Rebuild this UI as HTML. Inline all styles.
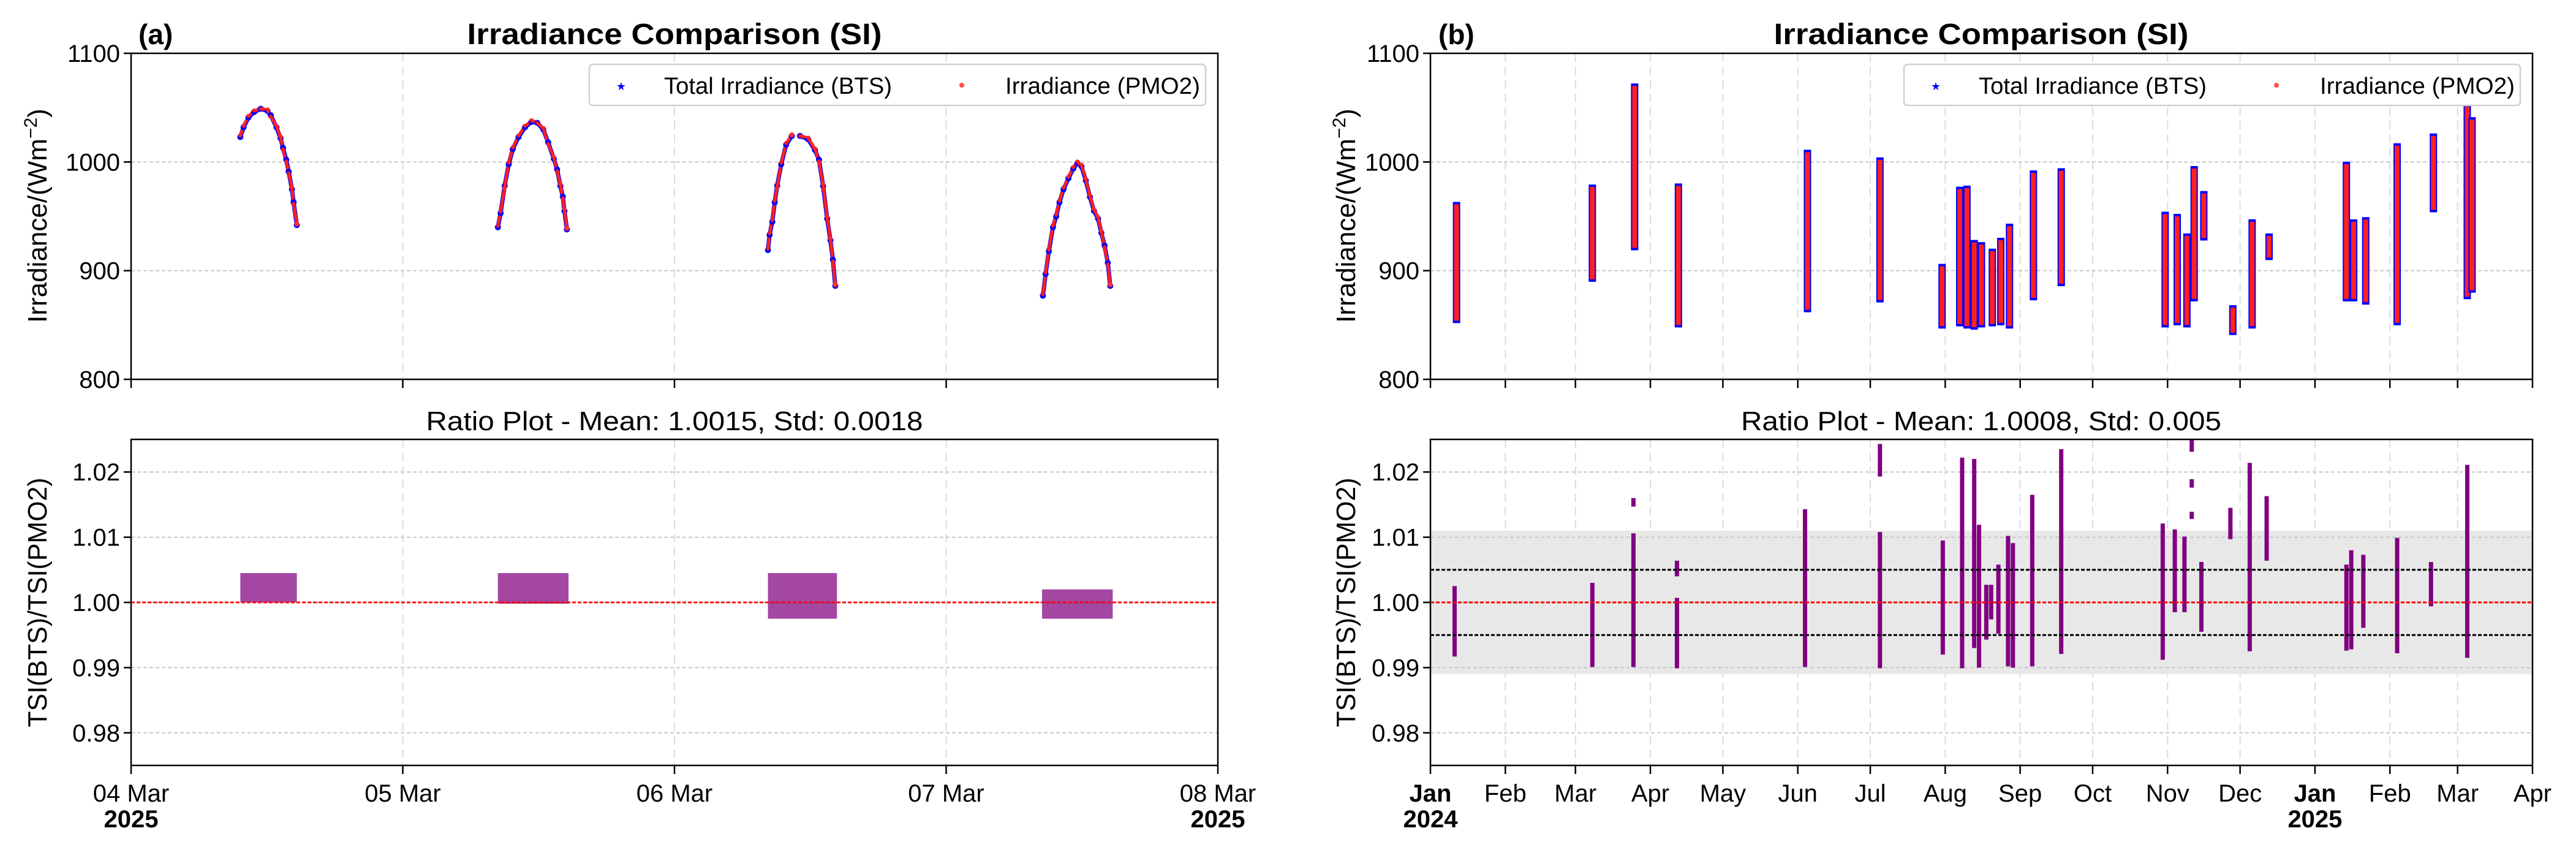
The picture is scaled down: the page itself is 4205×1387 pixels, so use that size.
<!DOCTYPE html>
<html><head><meta charset="utf-8">
<style>
html,body{margin:0;padding:0;background:#fff;}
svg{display:block;font-family:"Liberation Sans",Arial,sans-serif;}
</style></head>
<body>
<svg id="fig" width="4205" height="1387" viewBox="0 0 4205 1387" xmlns="http://www.w3.org/2000/svg">
<rect x="0" y="0" width="4205" height="1387" fill="#fff"/>
<g id="root"></g>
</svg>
<script>
// ---------- Panel (a) data: days since 04 Mar 2025 ----------
const aTimes = [0.402,0.414,0.432,0.453,0.477,0.502,0.514,0.535,0.550,0.559,0.571,0.580,0.592,0.598,0.610,
1.350,1.360,1.375,1.390,1.405,1.426,1.450,1.474,1.495,1.517,1.535,1.556,1.568,1.580,1.589,1.595,1.604,
2.344,2.350,2.360,2.369,2.378,2.393,2.411,2.432,2.462,2.492,2.517,2.532,2.547,2.562,2.574,2.583,2.592,
3.356,3.366,3.378,3.393,3.405,3.417,3.432,3.450,3.468,3.483,3.498,3.514,3.529,3.544,3.559,3.571,3.583,3.595,3.604];
const aBTS = [1023,1032,1041,1046,1049,1047,1043,1032,1022,1013,1002,991,975,963,942,
940,953,978,998,1012,1023,1032,1037,1036,1030,1018,1003,993,978,968,955,938,
919,933,945,963,978,998,1016,1024,1024,1021,1011,1002,978,948,928,910,886,
877,897,918,940,950,963,975,985,994,999,996,983,968,955,948,935,923,907,886];
const aPMO = [1024,1033,1042,1047,1049,1048,1042,1033,1023,1012,1001,990,976,962,943,
941,954,977,999,1013,1024,1033,1038,1036,1031,1017,1004,992,979,967,956,939,
920,934,946,964,977,999,1017,1025,1024,1022,1012,1001,979,949,929,909,887,
878,898,919,941,951,964,976,986,995,1000,997,984,969,956,949,936,922,906,887];
// ratio clusters (a): start day, end day, high, low
const aRatioStart = [0.402,1.350,2.344,3.353];
const aRatioEnd   = [0.610,1.610,2.598,3.613];
const aRatioHigh  = [1.0045,1.0045,1.0045,1.0020];
const aRatioLow   = [1.0000,0.9998,0.9975,0.9975];
const aDayLabels = ["04 Mar","05 Mar","06 Mar","07 Mar","08 Mar"];
const irrTicks = [800,900,1000,1100];
const ratioTicks = [0.98,0.99,1.00,1.01,1.02];
const ratioTickLabels = ["0.98","0.99","1.00","1.01","1.02"];

// ---------- Panel (b) data: days since 01 Jan 2024 ----------
const bIrrDay  = [10.8,67,84.5,102.6,156,186,211.7,219,222,225,228,232.5,236,239.6,249.5,261,304,309,313,316,320,332,340,347,379,382,387,400,415,429,431];
const bIrrHigh = [961,977,1070,978,1009,1002,904,975,976,926,924,918,928,941,990,992,952,950,932,994,971,866,945,932,998,945,947,1015,1024,1051,1039];
const bIrrLow  = [854,892,921,850,864,873,849,851,849,848,850,851,852,849,875,888,850,852,850,874,930,843,849,912,874,874,871,852,956,876,882];
const bRatioDay  = [10,67,84,84,102,102,155,186,186,212,220,225,227,230,232,235,239,241,249,261,303,308,312,315,315,315,319,331,339,346,379,381,386,400,414,429];
const bRatioHigh = [1.0025,1.0030,1.0160,1.0106,1.0064,1.0007,1.0143,1.0243,1.0108,1.0095,1.0222,1.0220,1.0119,1.0027,1.0027,1.0058,1.0102,1.0091,1.0165,1.0235,1.0121,1.0112,1.0101,1.0250,1.0189,1.0139,1.0062,1.0145,1.0214,1.0163,1.0058,1.0080,1.0073,1.0099,1.0062,1.0211];
const bRatioLow  = [0.9917,0.9901,1.0147,0.9901,1.0040,0.9899,0.9901,1.0193,0.9899,0.9920,0.9899,0.9930,0.9900,0.9943,0.9974,0.9952,0.9902,0.9900,0.9902,0.9921,0.9912,0.9985,0.9985,1.0231,1.0176,1.0128,0.9955,1.0097,0.9925,1.0064,0.9926,0.9928,0.9961,0.9922,0.9994,0.9915];
const bMonthDays = [0,31,60,91,121,152,182,213,244,274,305,335,366,397,425,456];
const bMonthLabels = ["Jan","Feb","Mar","Apr","May","Jun","Jul","Aug","Sep","Oct","Nov","Dec","Jan","Feb","Mar","Apr"];

const NS="http://www.w3.org/2000/svg";
const root=document.getElementById('root');
function mk(tag,attrs,parent){const e=document.createElementNS(NS,tag);for(const k in attrs)e.setAttribute(k,attrs[k]);(parent||root).appendChild(e);return e;}
function txt(str,attrs,parent){const e=mk('text',attrs,parent);e.textContent=str;return e;}

const TOP={y0:87,y1:619}, BOT={y0:717,y1:1249};
const A={x0:214,x1:1988}, B={x0:2335,x1:4134};
const irrY=v=>TOP.y1-(v-800)/300*(TOP.y1-TOP.y0);
const ratY=v=>BOT.y1-(v-0.975)/0.05*(BOT.y1-BOT.y0);
const aX=d=>A.x0+d/4*(A.x1-A.x0);
const bX=d=>B.x0+d/456*(B.x1-B.x0);

function frame(x0,x1,y0,y1,name){
  const r=mk('rect',{x:x0,y:y0,width:x1-x0,height:y1-y0,fill:'none',stroke:'#000','stroke-width':2.5});
  
  
}
function hgrid(x0,x1,y){mk('line',{x1:x0,x2:x1,y1:y,y2:y,stroke:'#c8c8c8','stroke-width':2,'stroke-dasharray':'6,4'});}
function vgrid(x,y0,y1){mk('line',{x1:x,x2:x,y1:y0,y2:y1,stroke:'#dcdcdc','stroke-width':2,'stroke-dasharray':'14,8'});}
function ytick(x0,y,label,name){
  mk('line',{x1:x0-12,x2:x0,y1:y,y2:y,stroke:'#000','stroke-width':2.5});
  const t=txt(label,{x:x0-18,y:y+14,'font-size':40,'text-anchor':'end',fill:'#000'});
  
  
}

// ===== Panel A =====
aDayLabels.forEach((l,i)=>{const x=aX(i);
  if(i>0&&i<4){vgrid(x,TOP.y0,TOP.y1);vgrid(x,BOT.y0,BOT.y1);}
  mk('line',{x1:x,x2:x,y1:TOP.y1,y2:TOP.y1+14,stroke:'#000','stroke-width':2.5});
  mk('line',{x1:x,x2:x,y1:BOT.y1,y2:BOT.y1+14,stroke:'#000','stroke-width':2.5});
  const t=txt(l,{x:x,y:1308,'font-size':40,'text-anchor':'middle'});
  
  
});
[0,4].forEach(i=>{const t=txt('2025',{x:aX(i),y:1350,'font-size':40,'font-weight':'bold','text-anchor':'middle'});
  
  });
irrTicks.forEach(v=>{if(v>800&&v<1100)hgrid(A.x0,A.x1,irrY(v));ytick(A.x0,irrY(v),String(v),'y-tick-label-a-top');});
ratioTicks.forEach((v,i)=>{hgrid(A.x0,A.x1,ratY(v));ytick(A.x0,ratY(v),ratioTickLabels[i],'y-tick-label-a-bottom');});
// arcs
for(let i=0;i<aTimes.length;i++){
  if(i>0&&aTimes[i]-aTimes[i-1]<0.03){
    const l=mk('line',{x1:aX(aTimes[i-1]),x2:aX(aTimes[i]),y1:irrY(aBTS[i-1]),y2:irrY(aBTS[i]),stroke:'#0000ff','stroke-width':7,'stroke-linecap':'round'});
    
    
    const l2=mk('line',{x1:aX(aTimes[i-1]),x2:aX(aTimes[i]),y1:irrY(aPMO[i-1]),y2:irrY(aPMO[i]),stroke:'#ff2020','stroke-width':5,'stroke-linecap':'round'});
    
    
  }
  const c=mk('circle',{cx:aX(aTimes[i]),cy:irrY(aBTS[i]),r:5,fill:'#0000ff'});
  
  
  const c2=mk('circle',{cx:aX(aTimes[i]),cy:irrY(aPMO[i]),r:4,fill:'#ff3030'});
  
  
}
// ratio a
aRatioStart.forEach((s,i)=>{
  const r=mk('rect',{x:aX(s),y:ratY(aRatioHigh[i]),width:aX(aRatioEnd[i])-aX(s),height:ratY(aRatioLow[i])-ratY(aRatioHigh[i]),fill:'#800080',opacity:0.72});
  
  
});
mk('line',{x1:A.x0,x2:A.x1,y1:ratY(1),y2:ratY(1),stroke:'#ff0000','stroke-width':3,'stroke-dasharray':'6,3',opacity:0.9});
frame(A.x0,A.x1,TOP.y0,TOP.y1,'plot-area-a-top');
frame(A.x0,A.x1,BOT.y0,BOT.y1,'plot-area-a-bottom');

// ===== Panel B =====
bMonthDays.forEach((d,i)=>{const x=bX(d);
  if(i>0&&i<15){vgrid(x,TOP.y0,TOP.y1);vgrid(x,BOT.y0,BOT.y1);}
  mk('line',{x1:x,x2:x,y1:TOP.y1,y2:TOP.y1+14,stroke:'#000','stroke-width':2.5});
  mk('line',{x1:x,x2:x,y1:BOT.y1,y2:BOT.y1+14,stroke:'#000','stroke-width':2.5});
  const isJan=bMonthLabels[i]==='Jan';
  const t=txt(bMonthLabels[i],{x:x,y:1308,'font-size':40,'text-anchor':'middle','font-weight':isJan?'bold':'normal'});
  
  
});
[[0,'2024'],[366,'2025']].forEach(p=>{const t=txt(p[1],{x:bX(p[0]),y:1350,'font-size':40,'font-weight':'bold','text-anchor':'middle'});
  
  });
irrTicks.forEach(v=>{if(v>800&&v<1100)hgrid(B.x0,B.x1,irrY(v));ytick(B.x0,irrY(v),String(v),'y-tick-label-b-top');});
// band
const band=mk('rect',{x:B.x0,y:ratY(1.011),width:B.x1-B.x0,height:ratY(0.989)-ratY(1.011),fill:'#e8e8e8'});


ratioTicks.forEach((v,i)=>{hgrid(B.x0,B.x1,ratY(v));ytick(B.x0,ratY(v),ratioTickLabels[i],'y-tick-label-b-bottom');});
bIrrDay.forEach((d,i)=>{
  const r=mk('rect',{x:bX(d)-6,y:irrY(bIrrHigh[i])-4,width:12,height:irrY(bIrrLow[i])-irrY(bIrrHigh[i])+8,fill:'#0000ff'});
  
  
  const r2=mk('rect',{x:bX(d)-4,y:irrY(bIrrHigh[i]),width:8,height:irrY(bIrrLow[i])-irrY(bIrrHigh[i]),fill:'#ff2020'});
  
  
});
bRatioDay.forEach((d,i)=>{
  const r=mk('rect',{x:bX(d)-3.5,y:ratY(bRatioHigh[i]),width:7,height:ratY(bRatioLow[i])-ratY(bRatioHigh[i]),fill:'#800080'});
  
  
});
mk('line',{x1:B.x0,x2:B.x1,y1:ratY(1),y2:ratY(1),stroke:'#ff0000','stroke-width':3,'stroke-dasharray':'6,3'});
[1.005,0.995].forEach(v=>{const l=mk('line',{x1:B.x0,x2:B.x1,y1:ratY(v),y2:ratY(v),stroke:'#000','stroke-width':3,'stroke-dasharray':'6,3'});
  
  });
frame(B.x0,B.x1,TOP.y0,TOP.y1,'plot-area-b-top');
frame(B.x0,B.x1,BOT.y0,BOT.y1,'plot-area-b-bottom');

// legends
function legend(x,y,w,name){
  const g=mk('g',{});
  
  
  mk('rect',{x:x,y:y,width:w,height:67,rx:6,fill:'#fff',stroke:'#d0d0d0','stroke-width':2.5},g);
  txt('★',{x:x+52,y:y+42,'font-size':18,fill:'#0000ff','text-anchor':'middle',"font-family":"DejaVu Sans"},g);
  txt('Total Irradiance (BTS)',{x:x+122,y:y+48,'font-size':38,textLength:372,lengthAdjust:'spacingAndGlyphs'},g);
  mk('circle',{cx:x+608,cy:y+34,r:4,fill:'#ff5050'},g);
  txt('Irradiance (PMO2)',{x:x+679,y:y+48,'font-size':38,textLength:318,lengthAdjust:'spacingAndGlyphs'},g);
}
legend(962,105,1006,'legend-a');
legend(3108,105,1006,'legend-b');
</script>
<!-- static text -->
<svg style="position:absolute;left:0;top:0" width="4205" height="1387" xmlns="http://www.w3.org/2000/svg" font-family="Liberation Sans, Arial, sans-serif">
<text x="226" y="72" font-size="46" font-weight="bold">(a)</text>
<text x="1101" y="72" font-size="48" font-weight="bold" text-anchor="middle" textLength="677" lengthAdjust="spacingAndGlyphs">Irradiance Comparison (SI)</text>
<text x="1101" y="702" font-size="44" text-anchor="middle" textLength="811" lengthAdjust="spacingAndGlyphs">Ratio Plot - Mean: 1.0015, Std: 0.0018</text>
<text transform="translate(76,352) rotate(-90)" font-size="44" text-anchor="middle">Irradiance/(Wm<tspan font-size="30" dy="-16">−2</tspan><tspan dy="16">)</tspan></text>
<text transform="translate(76,983) rotate(-90)" font-size="44" text-anchor="middle" textLength="407" lengthAdjust="spacingAndGlyphs">TSI(BTS)/TSI(PMO2)</text>
<text x="2348" y="72" font-size="46" font-weight="bold">(b)</text>
<text x="3234" y="72" font-size="48" font-weight="bold" text-anchor="middle" textLength="677" lengthAdjust="spacingAndGlyphs">Irradiance Comparison (SI)</text>
<text x="3234" y="702" font-size="44" text-anchor="middle" textLength="784" lengthAdjust="spacingAndGlyphs">Ratio Plot - Mean: 1.0008, Std: 0.005</text>
<text transform="translate(2212,352) rotate(-90)" font-size="44" text-anchor="middle">Irradiance/(Wm<tspan font-size="30" dy="-16">−2</tspan><tspan dy="16">)</tspan></text>
<text transform="translate(2212,983) rotate(-90)" font-size="44" text-anchor="middle" textLength="407" lengthAdjust="spacingAndGlyphs">TSI(BTS)/TSI(PMO2)</text>
</svg>
</body></html>
